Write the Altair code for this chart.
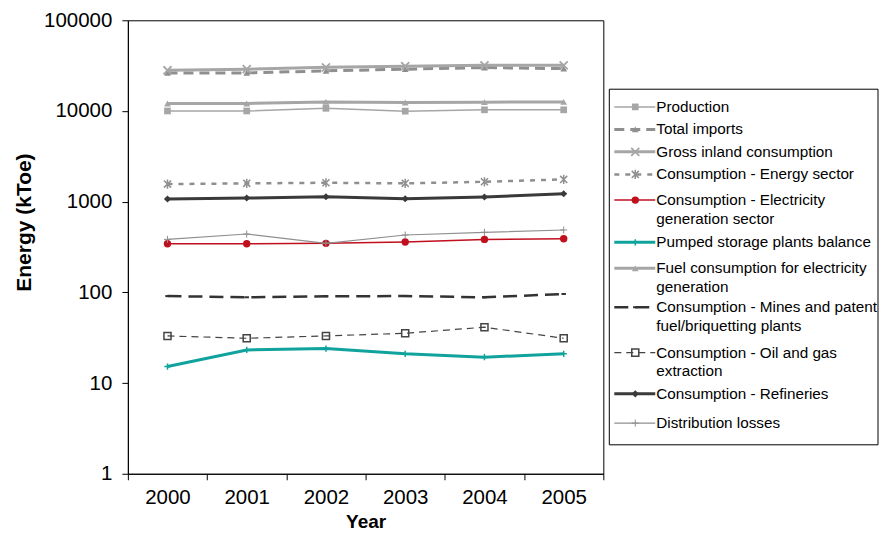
import altair as alt
import pandas as pd

years = ["2000", "2001", "2002", "2003", "2004", "2005"]

production = [10000, 10000, 10700, 9950, 10300, 10300]
total_imports = [26300, 26300, 27700, 28900, 30100, 29300]
gross_inland = [28100, 28900, 30300, 31200, 31900, 31900]
energy_sector = [1563, 1592, 1616, 1592, 1657, 1761]
elec_generation = [344, 344, 347, 359, 384, 390]
pumped_storage = [15.2, 23.2, 24.0, 21.0, 19.3, 21.0]
fuel_elec = [12100, 12100, 12600, 12400, 12500, 12600]
mines = [91, 88.3, 90.6, 91, 88.3, 96]
oil_gas = [33.1, 31.2, 33.1, 35.4, 41.3, 31.2]
refineries = [1068, 1097, 1133, 1076, 1124, 1222]
distribution_losses = [384, 440, 347, 429, 459, 487]

y_ticks = [1, 10, 100, 1000, 10000, 100000]

X_PATH = "M-1,-1L1,1M-1,1L1,-1"
AST_PATH = "M-1,-1L1,1M-1,1L1,-1M0,-1.3L0,1.3"
PLUS_PATH = "M-1,0L1,0M0,-1L0,1"

# name, legend lines, values, style
series = [
    ("Production", ["Production"], production,
     dict(color="#a6a6a6", width=1.5, dash=None, shape="square", filled=True, size=45, mw=1)),
    ("Total imports", ["Total imports"], total_imports,
     dict(color="#8f8f8f", width=3, dash=[10, 6], shape="triangle-up", filled=True, size=45, mw=1)),
    ("Gross inland consumption", ["Gross inland consumption"], gross_inland,
     dict(color="#a6a6a6", width=3, dash=None, shape=X_PATH, filled=False, size=65, mw=1.8)),
    ("Consumption - Energy sector", ["Consumption - Energy sector"], energy_sector,
     dict(color="#8f8f8f", width=2.5, dash=[5, 6], shape=AST_PATH, filled=False, size=50, mw=1.5)),
    ("Consumption - Electricity generation sector", ["Consumption - Electricity", "generation sector"], elec_generation,
     dict(color="#c0101e", width=1.5, dash=None, shape="circle", filled=True, size=55, mw=1)),
    ("Pumped storage plants balance", ["Pumped storage plants balance"], pumped_storage,
     dict(color="#10a39d", width=3, dash=None, shape=PLUS_PATH, filled=False, size=40, mw=1.5)),
    ("Fuel consumption for electricity generation", ["Fuel consumption for electricity", "generation"], fuel_elec,
     dict(color="#a6a6a6", width=3, dash=None, shape="triangle-up", filled=True, size=45, mw=1)),
    ("Consumption - Mines and patent fuel/briquetting plants", ["Consumption - Mines and patent", "fuel/briquetting plants"], mines,
     dict(color="#333333", width=2.5, dash=[14, 7], shape="stroke", filled=False, size=20, mw=2)),
    ("Consumption - Oil and gas extraction", ["Consumption - Oil and gas", "extraction"], oil_gas,
     dict(color="#444444", width=1.2, dash=[7, 5], shape="square", filled=False, size=50, mw=1.5)),
    ("Consumption - Refineries", ["Consumption - Refineries"], refineries,
     dict(color="#3a3a3a", width=3, dash=None, shape="diamond", filled=True, size=50, mw=1)),
    ("Distribution losses", ["Distribution losses"], distribution_losses,
     dict(color="#8f8f8f", width=1.2, dash=None, shape=PLUS_PATH, filled=False, size=50, mw=1)),
]

# legend layout (pixels inside the legend box)
legend_row_y = [17.7, 40.3, 62.7, 85.3, 111, 153.3, 179.3, 218.3, 263.7, 305, 334.3]
LINE_H = 18.7
BOX_W, BOX_H = 269, 356
SYM_X0, SYM_X1, SYM_XM, TXT_X = 5, 46, 26, 47

X = alt.X("year:O", scale=alt.Scale(type="band", paddingInner=0, paddingOuter=0),
          bandPosition=0.5,
          axis=alt.Axis(title="Year", labelAngle=0, tickBand="extent", labelPadding=8,
                        titlePadding=4, titleFontSize=19))
Y = alt.Y("value:Q", scale=alt.Scale(type="log", domain=[1, 100000]),
          axis=alt.Axis(title="Energy (kToe)", values=y_ticks, format="d", labelPadding=10,
                        titlePadding=9, titleFontSize=21, titleY=202))

main_layers = []
legend_layers = []

LX = lambda f: alt.X(f"{f}:Q", scale=alt.Scale(domain=[0, BOX_W], range=[482, 482 + BOX_W], nice=False, zero=False), axis=None)
LY = lambda f: alt.Y(f"{f}:Q", scale=alt.Scale(domain=[0, BOX_H], range=[69, 69 + BOX_H], nice=False, zero=False), axis=None)

box_df = pd.DataFrame({"x0": [0], "x1": [BOX_W], "y0": [0], "y1": [BOX_H]})
legend_layers.append(
    alt.Chart(box_df).mark_rect(fill="white", stroke="black", strokeWidth=1).encode(
        x=LX("x0"), x2="x1", y=LY("y0"), y2="y1")
)

for (name, lines, vals, st), ly in zip(series, legend_row_y):
    df = pd.DataFrame({"year": years, "value": vals})
    lkw = dict(color=st["color"], strokeWidth=st["width"])
    if st["dash"]:
        lkw["strokeDash"] = st["dash"]
    pkw = dict(shape=st["shape"], filled=st["filled"], size=st["size"], color=st["color"],
               strokeWidth=st["mw"], opacity=1)
    main_layers.append(alt.Chart(df).mark_line(**lkw).encode(x=X, y=Y))
    main_layers.append(alt.Chart(df).mark_point(**pkw).encode(x=X, y=Y))

    seg = pd.DataFrame({"a": [SYM_X0], "b": [SYM_X1], "y": [ly], "m": [SYM_XM]})
    legend_layers.append(alt.Chart(seg).mark_rule(**lkw).encode(x=LX("a"), x2="b", y=LY("y")))
    legend_layers.append(alt.Chart(seg).mark_point(**pkw).encode(x=LX("m"), y=LY("y")))
    tdf = pd.DataFrame({"t": lines, "x": [TXT_X] * len(lines),
                        "y": [ly + i * LINE_H for i in range(len(lines))]})
    legend_layers.append(
        alt.Chart(tdf).mark_text(align="left", baseline="middle", font="Liberation Sans",
                                 fontSize=15.3, color="black").encode(
            x=LX("x"), y=LY("y"), text="t:N")
    )

main = alt.layer(*main_layers)
legend = alt.layer(*legend_layers)

chart = (
    alt.layer(main, legend)
    .resolve_scale(x="independent", y="independent")
    .properties(width=476, height=454, padding={"left": 5, "top": 2, "right": 0, "bottom": 0})
    .configure_axis(labelFont="Liberation Sans", labelFontSize=20.5, labelColor="black",
                    titleFont="Liberation Sans", titleFontWeight="bold",
                    titleColor="black", domainColor="black", tickColor="black", tickSize=6,
                    grid=False)
    .configure_view(stroke="black", strokeWidth=1)
)

chart.save("out.html", embed_options={"renderer": "svg", "actions": False})
